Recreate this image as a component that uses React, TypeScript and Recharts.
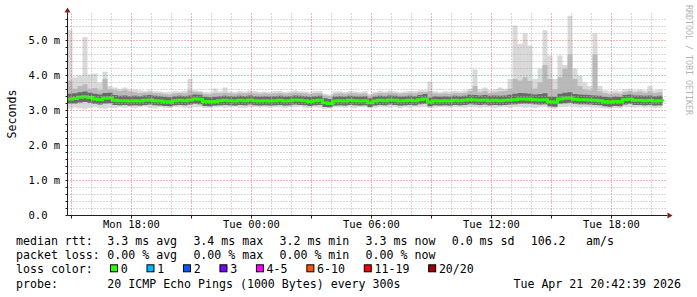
import { Area, ComposedChart, Line, ReferenceDot, ReferenceLine, XAxis, YAxis } from 'recharts'

// 15-minute steps, first step at Mon 14:48 (hours since Mon 00:00)
const startHour = 14.8
const stepHours = 0.25

// median rtt (ms)
const med = [
  3.33, 3.34, 3.38, 3.39, 3.37, 3.33, 3.31, 3.35, 3.36, 3.29,
  3.28, 3.28, 3.27, 3.28, 3.27, 3.29, 3.3, 3.28, 3.27, 3.25,
  3.24, 3.28, 3.29, 3.28, 3.3, 3.33, 3.32, 3.26, 3.25, 3.26,
  3.28, 3.29, 3.28, 3.27, 3.29, 3.28, 3.3, 3.28, 3.27, 3.28,
  3.27, 3.28, 3.29, 3.27, 3.28, 3.3, 3.29, 3.28, 3.26, 3.28,
  3.29, 3.22, 3.2, 3.27, 3.28, 3.27, 3.29, 3.28, 3.27, 3.28,
  3.22, 3.27, 3.29, 3.28, 3.3, 3.29, 3.27, 3.28, 3.29, 3.28,
  3.31, 3.33, 3.24, 3.28, 3.27, 3.28, 3.27, 3.29, 3.28, 3.29,
  3.31, 3.3, 3.29, 3.3, 3.28, 3.29, 3.28, 3.29, 3.3, 3.31,
  3.33, 3.33, 3.32, 3.31, 3.3, 3.31, 3.25, 3.24, 3.33, 3.35,
  3.36, 3.32, 3.31, 3.31, 3.3, 3.29, 3.28, 3.25, 3.24, 3.26,
  3.25, 3.31, 3.32, 3.29, 3.29, 3.28, 3.29, 3.27, 3.28, 3.27,
]

// lowest ping
const lo = [
  3.05, 3.08, 3.06, 3.04, 3.07, 3.09, 3.06, 3.05, 3.08, 3.07,
  3.09, 3.08, 3.1, 3.07, 3.09, 3.11, 3.08, 3.06, 3.09, 3.08,
  3.07, 3.1, 3.09, 3.08, 3.06, 3.09, 3.1, 3.07, 3.08, 3.09,
  3.1, 3.08, 3.09, 3.11, 3.08, 3.07, 3.09, 3.1, 3.08, 3.09,
  3.08, 3.1, 3.09, 3.07, 3.1, 3.09, 3.11, 3.08, 3.07, 3.09,
  3.08, 3.05, 3.06, 3.09, 3.1, 3.08, 3.09, 3.07, 3.1, 3.09,
  3.06, 3.08, 3.1, 3.09, 3.08, 3.1, 3.07, 3.09, 3.08, 3.1,
  3.09, 3.1, 3.07, 3.08, 3.1, 3.09, 3.08, 3.1, 3.09, 3.08,
  3.1, 3.09, 3.08, 3.1, 3.09, 3.07, 3.09, 3.1, 3.08, 3.09,
  3.1, 3.08, 3.09, 3.07, 3.1, 3.09, 3.06, 3.05, 3.09, 3.1,
  3.11, 3.09, 3.08, 3.1, 3.09, 3.08, 3.07, 3.06, 3.05, 3.07,
  3.06, 3.09, 3.1, 3.08, 3.09, 3.08, 3.09, 3.07, 3.08, 3.07,
]

// dense smoke, lower edge
const mlo = [
  3.2, 3.2, 3.23, 3.24, 3.22, 3.19, 3.17, 3.2, 3.21, 3.16,
  3.15, 3.16, 3.14, 3.15, 3.14, 3.16, 3.17, 3.15, 3.14, 3.13,
  3.12, 3.15, 3.16, 3.15, 3.17, 3.19, 3.18, 3.13, 3.12, 3.14,
  3.15, 3.16, 3.15, 3.14, 3.16, 3.15, 3.17, 3.15, 3.14, 3.15,
  3.14, 3.15, 3.16, 3.14, 3.15, 3.17, 3.16, 3.15, 3.13, 3.15,
  3.16, 3.1, 3.09, 3.14, 3.15, 3.14, 3.16, 3.15, 3.14, 3.15,
  3.1, 3.14, 3.16, 3.15, 3.17, 3.16, 3.14, 3.15, 3.16, 3.15,
  3.18, 3.19, 3.12, 3.15, 3.14, 3.15, 3.14, 3.16, 3.15, 3.16,
  3.18, 3.17, 3.16, 3.17, 3.15, 3.16, 3.15, 3.16, 3.17, 3.18,
  3.19, 3.2, 3.19, 3.18, 3.17, 3.18, 3.12, 3.11, 3.19, 3.21,
  3.22, 3.19, 3.18, 3.18, 3.17, 3.16, 3.15, 3.12, 3.11, 3.13,
  3.12, 3.17, 3.19, 3.16, 3.16, 3.15, 3.16, 3.14, 3.15, 3.14,
]

// dense smoke, upper edge
const mhi = [
  3.48, 3.49, 3.52, 3.54, 3.51, 3.48, 3.46, 3.5, 3.51, 3.44,
  3.42, 3.43, 3.41, 3.42, 3.41, 3.43, 3.44, 3.42, 3.41, 3.39,
  3.38, 3.41, 3.42, 3.41, 3.43, 3.46, 3.45, 3.39, 3.38, 3.39,
  3.41, 3.42, 3.41, 3.4, 3.42, 3.41, 3.43, 3.41, 3.4, 3.41,
  3.4, 3.41, 3.42, 3.4, 3.41, 3.43, 3.42, 3.41, 3.39, 3.41,
  3.42, 3.35, 3.33, 3.4, 3.41, 3.4, 3.42, 3.41, 3.4, 3.41,
  3.35, 3.4, 3.42, 3.41, 3.43, 3.42, 3.4, 3.41, 3.42, 3.41,
  3.44, 3.47, 3.37, 3.41, 3.4, 3.41, 3.4, 3.42, 3.41, 3.42,
  3.45, 3.44, 3.43, 3.44, 3.42, 3.43, 3.42, 3.43, 3.45, 3.48,
  3.5, 3.49, 3.48, 3.46, 3.47, 3.49, 3.4, 3.39, 3.48, 3.51,
  3.52, 3.47, 3.46, 3.45, 3.44, 3.43, 3.42, 3.39, 3.38, 3.4,
  3.39, 3.44, 3.46, 3.43, 3.43, 3.42, 3.43, 3.41, 3.42, 3.41,
]

// medium smoke, upper edge
const h2 = [
  3.85, 3.62, 3.7, 3.75, 3.62, 3.64, 3.58, 3.9, 3.6, 3.58,
  3.56, 3.58, 3.54, 3.52, 3.5, 3.51, 3.52, 3.5, 3.49, 3.47,
  3.46, 3.49, 3.5, 3.49, 3.58, 3.53, 3.52, 3.47, 3.46, 3.5,
  3.49, 3.51, 3.49, 3.48, 3.5, 3.49, 3.51, 3.49, 3.48, 3.49,
  3.48, 3.49, 3.5, 3.48, 3.49, 3.51, 3.5, 3.49, 3.47, 3.49,
  3.5, 3.43, 3.41, 3.48, 3.49, 3.48, 3.5, 3.49, 3.48, 3.49,
  3.43, 3.48, 3.5, 3.49, 3.51, 3.5, 3.48, 3.49, 3.5, 3.49,
  3.52, 3.53, 3.55, 3.49, 3.48, 3.49, 3.48, 3.5, 3.49, 3.5,
  3.55, 3.7, 3.52, 3.56, 3.5, 3.52, 3.54, 3.56, 3.62, 3.9,
  3.86, 3.95, 3.84, 3.62, 3.8, 4.3, 3.9, 3.6, 3.95, 4.2,
  4.6, 3.9, 3.7, 3.6, 3.58, 4.6, 3.55, 3.5, 3.47, 3.49,
  3.48, 3.53, 3.56, 3.52, 3.54, 3.51, 3.55, 3.5, 3.52, 3.5,
]

// highest ping
const hi = [
  5.3, 3.95, 4.0, 5.1, 4.03, 4.06, 3.8, 4.11, 3.7, 3.66,
  3.62, 3.66, 3.6, 3.6, 3.58, 3.56, 3.58, 3.55, 3.54, 3.53,
  3.52, 3.55, 3.54, 3.56, 3.91, 3.58, 3.56, 3.53, 3.52, 3.63,
  3.55, 3.66, 3.54, 3.53, 3.55, 3.54, 3.57, 3.55, 3.53, 3.54,
  3.53, 3.55, 3.56, 3.53, 3.54, 3.57, 3.55, 3.54, 3.52, 3.55,
  3.56, 3.48, 3.46, 3.54, 3.55, 3.53, 3.56, 3.54, 3.53, 3.55,
  3.48, 3.53, 3.56, 3.54, 3.57, 3.55, 3.53, 3.54, 3.56, 3.55,
  3.58, 3.58, 3.83, 3.55, 3.53, 3.55, 3.54, 3.56, 3.55, 3.57,
  3.62, 4.17, 3.6, 3.66, 3.58, 3.6, 3.66, 3.62, 3.9, 5.43,
  4.9, 5.2, 4.86, 3.9, 4.2, 5.29, 4.57, 3.9, 4.57, 4.3,
  5.71, 4.2, 4.0, 3.8, 3.7, 5.2, 3.7, 3.58, 3.55, 3.57,
  3.55, 3.6, 3.62, 3.58, 3.6, 3.57, 3.7, 3.58, 3.6, 3.56,
]

const yTicks = [
  0, 0.2, 0.4, 0.6, 0.8, 1, 1.2, 1.4, 1.6, 1.8, 2, 2.2, 2.4, 2.6, 2.8,
  3, 3.2, 3.4, 3.6, 3.8, 4, 4.2, 4.4, 4.6, 4.8, 5, 5.2, 5.4, 5.6,
]
const yLabelValues = [0, 1, 2, 3, 4, 5]
const yLabels = ['0.0', '1.0 m', '2.0 m', '3.0 m', '4.0 m', '5.0 m']

const hourTicks = [
  15, 16, 17, 18, 19, 20, 21, 22, 23, 24, 25, 26, 27, 28, 29,
  30, 31, 32, 33, 34, 35, 36, 37, 38, 39, 40, 41, 42, 43, 44,
]
const majorHours = [15, 18, 21, 24, 27, 30, 33, 36, 39, 42]
const xLabelValues = [18, 24, 30, 36, 42]
const xLabels = ['Mon 18:00', 'Tue 00:00', 'Tue 06:00', 'Tue 12:00', 'Tue 18:00']

const rttStats = ['3.3 ms avg', '3.4 ms max', '3.2 ms min', '3.3 ms now', '0.0 ms sd']
const lossStats = ['0.00 % avg', '0.00 % max', '0.00 % min', '0.00 % now']
const amValue = '106.2'
const amUnit = 'am/s'
const lossLabels = ['0', '1', '2', '3', '4-5', '6-10', '11-19', '20/20']
const lossColors = ['#26ff00', '#00b8ff', '#0059ff', '#7e00ff', '#ff00ff', '#ff5500', '#ff0000', '#a00000']
const probeText = '20 ICMP Echo Pings (1000 Bytes) every 300s'
const dateText = 'Tue Apr 21 20:42:39 2026'

const rows = med.map((m, i) => ({
  t: startHour + i * stepHours,
  med: m,
  lo: lo[i],
  mlo: mlo[i],
  mhi: mhi[i],
  h2: h2[i],
  hi: hi[i],
}))

const mono = '"DejaVu Sans Mono", monospace'
const gridColor = '#b0b0b0'
const majorGridColor = '#de7070'
const axisColor = '#1f1f1f'
const arrowColor = '#7f1f1f'

const XTick = (props: any) => {
  const k = xLabelValues.indexOf(props.payload.value)
  if (k < 0) return <g />
  return (
    <text x={props.x} y={props.y} dy={7.5} textAnchor="middle" fontFamily={mono} fontSize={10.5} fill="#000">
      {xLabels[k]}
    </text>
  )
}

const YTick = (props: any) => {
  const k = yLabelValues.findIndex((v) => Math.abs(v - props.payload.value) < 1e-6)
  if (k < 0) return <g />
  return (
    <text x={props.x - 35} y={props.y} dy={3.8} textAnchor="start" fontFamily={mono} fontSize={10.5} fill="#000">
      {yLabels[k]}
    </text>
  )
}

const ArrowUp = (p: any) => (
  <path d={`M${p.cx - 3},${p.cy}L${p.cx},${p.cy - 5}L${p.cx + 3},${p.cy}Z`} fill={arrowColor} />
)
const ArrowRight = (p: any) => (
  <path d={`M${p.cx},${p.cy - 3}L${p.cx + 5},${p.cy}L${p.cx},${p.cy + 3}Z`} fill={arrowColor} />
)

const charW = 6.98
const legendBase = [244.5, 258.9, 273.3, 287.7]
const colX = [107.3, 193.4, 279.5, 365.6, 451.7]

function lossItems() {
  let x = 110
  return lossLabels.map((label, k) => {
    const boxX = x
    x += 10.7 + label.length * charW + 18.8
    return (
      <g key={label}>
        <rect x={boxX + 0.5} y={legendBase[2] - 8.5} width={7} height={7} fill={lossColors[k]} stroke="#000" strokeWidth={1} />
        <text x={boxX + 10.7} y={legendBase[2]}>{label}</text>
      </g>
    )
  })
}

export default function App() {
  return (
    <div style={{ position: 'absolute', left: 0, top: 0, width: 697, height: 297, background: '#fff' }}>
      <ComposedChart width={697} height={297} data={rows} margin={{ top: 12.5, right: 29.5, bottom: 61.5, left: 0 }}>
        <XAxis
          type="number"
          dataKey="t"
          domain={[14.8, 44.8]}
          allowDataOverflow
          ticks={majorHours}
          interval={0}
          tick={<XTick />}
          tickSize={3}
          height={20}
          axisLine={{ stroke: axisColor }}
          tickLine={{ stroke: axisColor }}
        />
        <YAxis
          type="number"
          domain={[0, 5.8]}
          allowDataOverflow
          ticks={yTicks}
          interval={0}
          tick={<YTick />}
          tickSize={2}
          width={67.5}
          axisLine={{ stroke: axisColor }}
          tickLine={{ stroke: axisColor }}
        />
        <Area
          dataKey={(d: any) => [d.lo, d.hi]}
          type="stepAfter"
          fill="#d9d9d9"
          fillOpacity={1}
          stroke="none"
          isAnimationActive={false}
        />
        <Area
          dataKey={(d: any) => [d.mlo, d.h2]}
          type="stepAfter"
          fill="#b9b9b9"
          fillOpacity={1}
          stroke="none"
          isAnimationActive={false}
        />
        <Area
          dataKey={(d: any) => [d.mlo, d.mhi]}
          type="stepAfter"
          fill="#6a6a6a"
          fillOpacity={1}
          stroke="none"
          isAnimationActive={false}
        />
        <Line
          dataKey="med"
          type="stepAfter"
          stroke={lossColors[0]}
          strokeWidth={3}
          dot={false}
          activeDot={false}
          isAnimationActive={false}
        />
        {yTicks
          .filter((v) => v > 0 && !yLabelValues.includes(v))
          .map((v) => (
            <ReferenceLine key={'hy' + v} y={v} stroke={gridColor} strokeDasharray="1 2" />
          ))}
        {hourTicks
          .filter((h) => !majorHours.includes(h))
          .map((h) => (
            <ReferenceLine key={'vx' + h} x={h} stroke={gridColor} strokeDasharray="1 2" />
          ))}
        {yLabelValues
          .filter((v) => v > 0)
          .map((v) => (
            <ReferenceLine key={'my' + v} y={v} stroke={majorGridColor} strokeDasharray="1 2" />
          ))}
        {majorHours.map((h) => (
          <ReferenceLine key={'mx' + h} x={h} stroke={majorGridColor} strokeDasharray="1 2" />
        ))}
        <ReferenceDot x={14.8} y={5.8} shape={ArrowUp} />
        <ReferenceDot x={44.8} y={0} shape={ArrowRight} />
      </ComposedChart>
      <svg
        width={697}
        height={297}
        style={{ position: 'absolute', left: 0, top: 0, pointerEvents: 'none' }}
        fontFamily={mono}
        fontSize={11.6}
        fill="#000"
      >
        <text x={15.5} y={114} transform="rotate(-90 15.5 114)" textAnchor="middle">
          Seconds
        </text>
        <text x={685.5} y={5} transform="rotate(90 685.5 5)" fontSize={8.3} fill="#b4b4b4">
          RRDTOOL / TOBI OETIKER
        </text>

        <text x={16} y={legendBase[0]}>median rtt:</text>
        {rttStats.map((s, k) => (
          <text key={s} x={colX[k]} y={legendBase[0]}>{s}</text>
        ))}
        <text x={530.7} y={legendBase[0]}>{amValue}</text>
        <text x={586} y={legendBase[0]}>{amUnit}</text>

        <text x={16} y={legendBase[1]}>packet loss:</text>
        {lossStats.map((s, k) => (
          <text key={s} x={colX[k]} y={legendBase[1]}>{s}</text>
        ))}

        <text x={16} y={legendBase[2]}>loss color:</text>
        {lossItems()}

        <text x={16} y={legendBase[3]}>probe:</text>
        <text x={colX[0]} y={legendBase[3]}>{probeText}</text>
        <text x={681} y={legendBase[3]} textAnchor="end">{dateText}</text>
      </svg>
    </div>
  )
}
